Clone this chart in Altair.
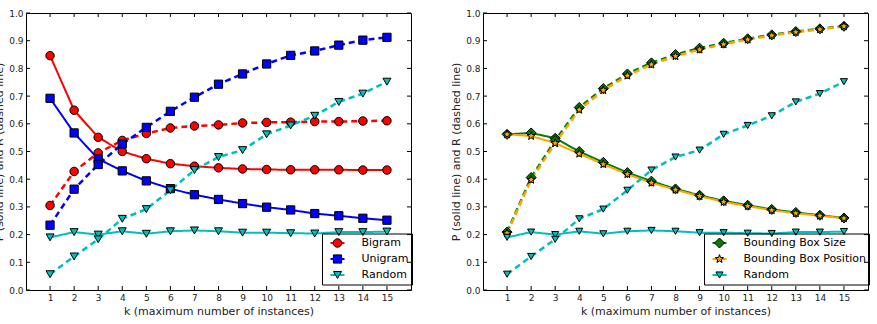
import math

import altair as alt
import pandas as pd

# ---- values -------------------------------------------------------------
K = list(range(1, 16))
Y_TICKS = [0.0, 0.1, 0.2, 0.3, 0.4, 0.5, 0.6, 0.7, 0.8, 0.9, 1.0]

BIGRAM_P = [0.846, 0.649, 0.551, 0.500, 0.474, 0.456, 0.447, 0.441, 0.437,
            0.435, 0.434, 0.434, 0.434, 0.433, 0.433]
BIGRAM_R = [0.305, 0.428, 0.495, 0.540, 0.565, 0.585, 0.592, 0.596, 0.603,
            0.605, 0.606, 0.608, 0.608, 0.610, 0.611]
UNIGRAM_P = [0.692, 0.567, 0.473, 0.430, 0.394, 0.366, 0.344, 0.327, 0.312,
             0.299, 0.289, 0.276, 0.268, 0.259, 0.252]
UNIGRAM_R = [0.234, 0.364, 0.453, 0.527, 0.587, 0.645, 0.696, 0.743, 0.780,
             0.816, 0.847, 0.863, 0.884, 0.902, 0.912]
RANDOM_P = [0.190, 0.209, 0.200, 0.212, 0.203, 0.212, 0.215, 0.212, 0.207,
            0.207, 0.205, 0.204, 0.209, 0.209, 0.211]
RANDOM_R = [0.057, 0.121, 0.183, 0.257, 0.292, 0.360, 0.433, 0.480, 0.505,
            0.562, 0.594, 0.629, 0.679, 0.709, 0.752]

BBSIZE_P = [0.562, 0.567, 0.548, 0.500, 0.461, 0.424, 0.393, 0.365, 0.342,
            0.322, 0.306, 0.291, 0.280, 0.270, 0.260]
BBPOS_P = [0.562, 0.556, 0.530, 0.492, 0.454, 0.418, 0.387, 0.362, 0.339,
           0.318, 0.303, 0.288, 0.277, 0.268, 0.259]
BBSIZE_R = [0.209, 0.406, 0.540, 0.659, 0.727, 0.780, 0.820, 0.850, 0.873,
            0.891, 0.907, 0.921, 0.933, 0.943, 0.952]
BBPOS_R = [0.205, 0.398, 0.530, 0.651, 0.721, 0.774, 0.814, 0.844, 0.868,
           0.887, 0.904, 0.919, 0.931, 0.941, 0.952]

LEFT_NAMES = ["Bigram", "Unigram", "Random"]
RIGHT_NAMES = ["Bounding Box Size", "Bounding Box Position", "Random"]

X_TITLE = "k (maximum number of instances)"
Y_TITLE = "P (solid line) and R (dashed line)"

# ---- style --------------------------------------------------------------
FONT = "DejaVu Sans"
TEXT = "#222222"
W, H = 385, 277
TICK = 4
LEGEND_SYMBOL = 81          # legend marker size; one path unit = 4.5 px
PAIR = 1.556                # half distance between the two legend markers

NON_POSITIONAL = ["color", "stroke", "fill", "shape", "size", "strokeDash",
                  "strokeWidth"]


# ---- marker outlines in Vega's [-1, 1] symbol box -------------------------
def star_pts(cx=0.0, scale=1.0, inner=0.42):
    pts = []
    for i in range(10):
        r = (1.0 if i % 2 == 0 else inner) * scale
        a = math.radians(-90 + 36 * i)
        pts.append(f"{cx + r * math.cos(a):.3f},{r * math.sin(a):.3f}")
    return "M" + " L".join(pts) + " Z"


def outline(kind, cx):
    if kind == "circle":
        return f"M{cx - 1:.3f},0 a1,1 0 1,0 2,0 a1,1 0 1,0 -2,0 Z"
    if kind == "square":
        return f"M{cx - 0.9:.3f},-0.9 h1.8 v1.8 h-1.8 Z"
    if kind == "triangle-down":
        return (f"M{cx - 1.05:.3f},-0.6 L{cx + 1.05:.3f},-0.6 "
                f"L{cx:.3f},1.2 Z")
    if kind == "diamond":
        return (f"M{cx - 1.1:.3f},0 L{cx:.3f},-1.1 L{cx + 1.1:.3f},0 "
                f"L{cx:.3f},1.1 Z")
    return star_pts(cx, 0.8)


def pair_path(kind):
    """Two markers, one at each end of a legend line sample."""
    return outline(kind, -PAIR) + " " + outline(kind, PAIR)


STAR = star_pts()


def long_table(names, p_lists, r_lists):
    rows = []
    for name, p_vals, r_vals in zip(names, p_lists, r_lists):
        for metric, vals in (("P", p_vals), ("R", r_vals)):
            for k, v in zip(K, vals):
                rows.append({"series": name, "marker": name + " marker",
                             "metric": metric, "key": f"{name}|{metric}",
                             "k": k, "value": v})
    return pd.DataFrame(rows)


def panel(names, colors, shapes, kinds, sizes, p_lists, r_lists, legend_x):
    df = long_table(names, p_lists, r_lists)
    markers = [n + " marker" for n in names]
    x_scale = alt.Scale(domain=[0, 16], nice=False, zero=False)
    y_scale = alt.Scale(domain=[0, 1], nice=False, zero=False)

    x_axis = alt.Axis(values=K, title=X_TITLE, labelFontSize=9, labelPadding=3,
                      titleFontSize=11, titleFontWeight="normal", titlePadding=3,
                      labelColor=TEXT, titleColor=TEXT)
    y_axis = alt.Axis(values=Y_TICKS, format=".1f", title=Y_TITLE,
                      labelFontSize=9, labelPadding=3, titleFontSize=11,
                      titleFontWeight="normal", titlePadding=4,
                      labelColor=TEXT, titleColor=TEXT)
    X = dict(scale=x_scale, axis=x_axis)
    Y = dict(scale=y_scale, axis=y_axis)

    leg = dict(orient="none", legendX=legend_x, legendY=220.5, title=None,
               padding=3, rowPadding=3, clipHeight=13, labelFont=FONT,
               labelFontSize=11)

    # legend with the line samples, the frame and the labels
    line_leg = alt.Legend(**leg, strokeColor="black",
                          symbolType="stroke", symbolSize=196,
                          symbolStrokeWidth=2, symbolOffset=4.5,
                          labelOffset=16, labelColor="black", cornerRadius=0)

    # legend drawing a pair of markers over the ends of each line sample
    expr = f"'{pair_path(kinds[-1])}'"
    for m, kind in reversed(list(zip(markers[:-1], kinds[:-1]))):
        expr = f"datum.value === '{m}' ? '{pair_path(kind)}' : ({expr})"
    mark_leg = alt.Legend(**leg, symbolSize=LEGEND_SYMBOL,
                          symbolType={"expr": expr},
                          symbolStrokeColor="black", symbolStrokeWidth=1,
                          symbolOffset=7, labelExpr="''",
                          labelColor="transparent")

    x_ticks = pd.DataFrame({"k": K})
    y_ticks = pd.DataFrame({"value": Y_TICKS})
    rule = dict(color="black", strokeWidth=1)

    bottom = alt.Chart(x_ticks).mark_rule(**rule).encode(
        x=alt.X("k:Q", **X), y=alt.value(H), y2=alt.value(H - TICK))
    top = alt.Chart(x_ticks).mark_rule(**rule).encode(
        x=alt.X("k:Q", **X), y=alt.value(0), y2=alt.value(TICK))
    left = alt.Chart(y_ticks).mark_rule(**rule).encode(
        y=alt.Y("value:Q", **Y), x=alt.value(0), x2=alt.value(TICK))
    right = alt.Chart(y_ticks).mark_rule(**rule).encode(
        y=alt.Y("value:Q", **Y), x=alt.value(W), x2=alt.value(W - TICK))

    lines = alt.Chart(df).mark_line().encode(
        x=alt.X("k:Q", **X),
        y=alt.Y("value:Q", **Y),
        stroke=alt.Stroke("series:N", scale=alt.Scale(domain=names, range=colors),
                          legend=line_leg),
        strokeDash=alt.StrokeDash("metric:N",
                                  scale=alt.Scale(domain=["P", "R"],
                                                  range=[[1, 0], [6, 4]]),
                                  legend=None),
        strokeWidth=alt.StrokeWidth("metric:N",
                                    scale=alt.Scale(domain=["P", "R"],
                                                    range=[2, 2.5]),
                                    legend=None),
        detail="key:N",
    )

    points = alt.Chart(df).mark_point(
        filled=True, stroke="black", strokeWidth=1, opacity=1
    ).encode(
        x=alt.X("k:Q", **X),
        y=alt.Y("value:Q", **Y),
        color=alt.Color("marker:N", scale=alt.Scale(domain=markers, range=colors),
                        legend=mark_leg),
        shape=alt.Shape("marker:N", scale=alt.Scale(domain=markers, range=shapes),
                        legend=None),
        size=alt.Size("marker:N", scale=alt.Scale(domain=markers, range=sizes),
                      legend=None),
    )

    return alt.layer(bottom, top, left, right, lines, points).properties(
        width=W, height=H)


left_panel = panel(
    LEFT_NAMES, ["#ff0000", "#0000ff", "#00bfbf"],
    ["circle", "square", "triangle-down"],
    ["circle", "square", "triangle-down"], [72, 64, 90],
    [BIGRAM_P, UNIGRAM_P, RANDOM_P], [BIGRAM_R, UNIGRAM_R, RANDOM_R],
    legend_x=296,
)
right_panel = panel(
    RIGHT_NAMES, ["#007f00", "#ffa500", "#00bfbf"],
    ["diamond", STAR, "triangle-down"],
    ["diamond", "star", "triangle-down"], [100, 50, 90],
    [BBSIZE_P, BBPOS_P, RANDOM_P], [BBSIZE_R, BBPOS_R, RANDOM_R],
    legend_x=221,
)

chart = alt.hconcat(
    left_panel, right_panel, spacing=72, bounds="flush",
    padding={"left": -7, "top": 8, "right": 0, "bottom": 0},
).resolve_scale(
    **{c: "independent" for c in NON_POSITIONAL}
).resolve_legend(
    **{c: "independent" for c in NON_POSITIONAL}
).configure(
    background="white",
).configure_view(
    stroke="black", strokeWidth=1,
).configure_axis(
    grid=False, ticks=False, domain=False, labelFont=FONT, titleFont=FONT,
)

chart.save("out.html", embed_options={"renderer": "svg", "actions": False})
